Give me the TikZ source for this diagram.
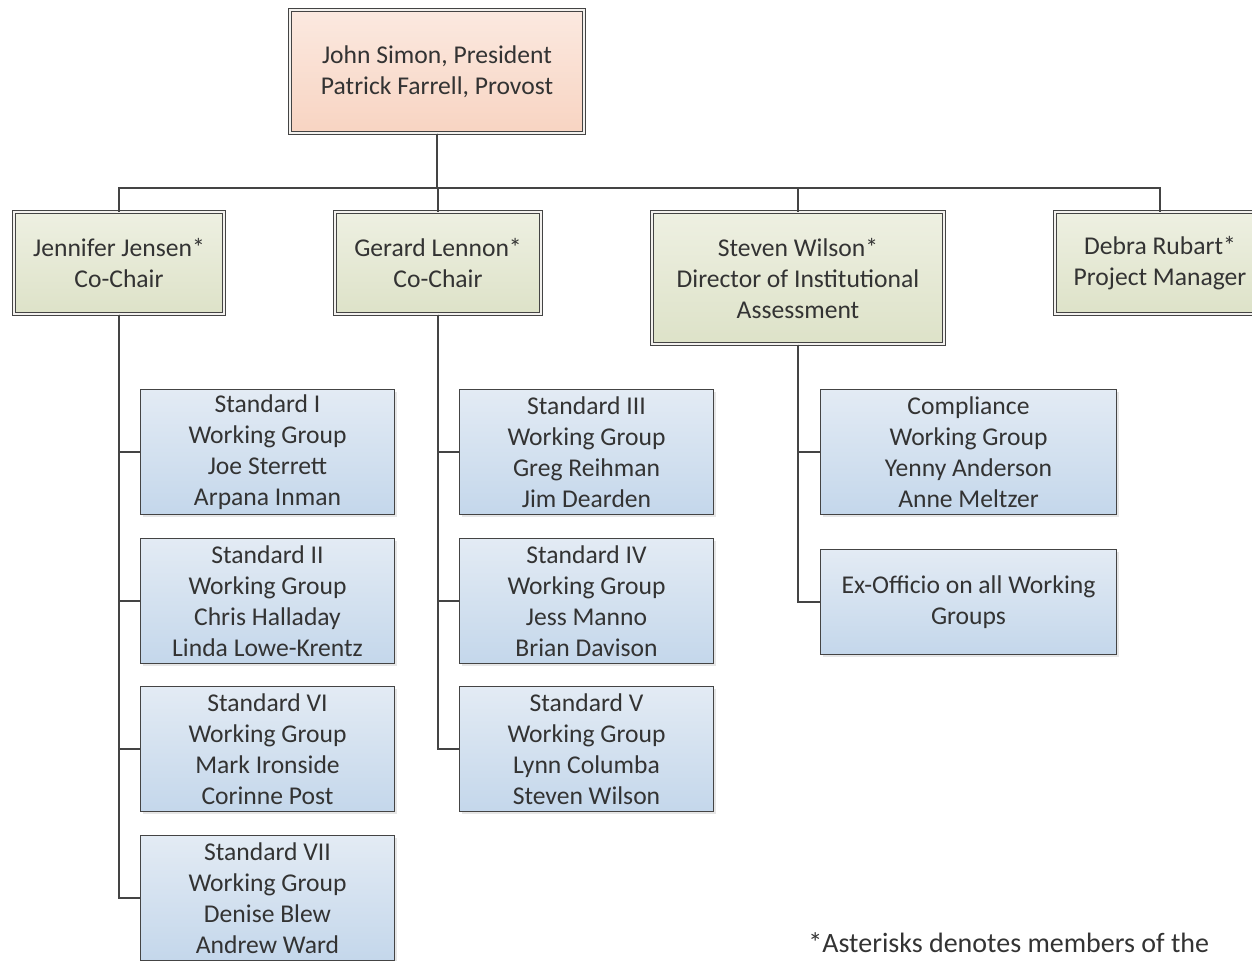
\documentclass[tikz,border=0pt]{standalone}
\usepackage{fontspec}
\setmainfont{Carlito}
\usetikzlibrary{shadows}

\definecolor{txt}{HTML}{333333}
\definecolor{edge}{HTML}{444444}
\definecolor{gap}{HTML}{F3F1EE}
\definecolor{peachtop}{HTML}{FBE9E0}
\definecolor{peachbot}{HTML}{F8D4C2}
\definecolor{greentop}{HTML}{EEF0E2}
\definecolor{greenbot}{HTML}{DDE2C8}
\definecolor{bluetop}{HTML}{E3EBF4}
\definecolor{bluebot}{HTML}{C4D7EB}

\begin{document}
\begin{tikzpicture}[x=0.5pt, y=-0.5pt,
  every node/.style={font=\fontsize{12.8}{15.5}\selectfont, text=txt, align=center, inner sep=0pt},
  shade/.style={drop shadow={opacity=0.2, shadow xshift=1pt, shadow yshift=-1pt}},
  head/.style={shade, draw=edge, line width=0.5pt, double=gap, double distance=1pt,
    top color=peachtop, bottom color=peachbot, minimum width=147pt, minimum height=61.5pt},
  chair/.style={shade, draw=edge, line width=0.5pt, double=gap, double distance=1pt,
    top color=greentop, bottom color=greenbot, minimum height=51pt},
  group/.style={shade, draw=edge, line width=0.6pt, top color=bluetop, bottom color=bluebot,
    minimum width=127pt, minimum height=62.5pt},
  link/.style={draw=edge, line width=0.7pt}]
  \useasboundingbox (0,0) rectangle (1252,960);

  \node[head] (pres) at (437,71.5) {John Simon, President\\Patrick Farrell, Provost};

  \node[chair, minimum width=105pt] (jensen) at (119,263) {Jennifer Jensen*\\Co-Chair};
  \node[chair, minimum width=103pt] (lennon) at (438,263) {Gerard Lennon*\\Co-Chair};
  \node[chair, minimum width=146pt, minimum height=66pt] (wilson) at (798,278)
    {Steven Wilson*\\Director of Institutional\\Assessment};
  \node[chair, minimum width=105pt] (rubart) at (1160,263) {Debra Rubart*\\Project Manager};

  % working groups under each chair
  \node[group] (std1) at (267.5,452) {Standard I\\Working Group\\Joe Sterrett\\Arpana Inman};
  \node[group] (std2) at (267.5,601) {Standard II\\Working Group\\Chris Halladay\\Linda Lowe-Krentz};
  \node[group] (std6) at (267.5,749) {Standard VI\\Working Group\\Mark Ironside\\Corinne Post};
  \node[group] (std7) at (267.5,898) {Standard VII\\Working Group\\Denise Blew\\Andrew Ward};

  \node[group] (std3) at (586.5,452) {Standard III\\Working Group\\Greg Reihman\\Jim Dearden};
  \node[group] (std4) at (586.5,601) {Standard IV\\Working Group\\Jess Manno\\Brian Davison};
  \node[group] (std5) at (586.5,749) {Standard V\\Working Group\\Lynn Columba\\Steven Wilson};

  \node[group, minimum width=148pt] (comp) at (968.5,452)
    {Compliance\\Working Group\\Yenny Anderson\\Anne Meltzer};
  \node[group, minimum width=148pt, minimum height=52.5pt] (exoff) at (968.5,602)
    {Ex-Officio on all Working\\Groups};

  \node[anchor=base west, font=\fontsize{14}{17}\selectfont] (note) at (808,952)
    {*Asterisks denotes members of the};

  \coordinate (bus) at (0,188);
  \foreach \c in {jensen,lennon,wilson,rubart}
    \draw[link] (pres.south) |- (bus -| \c.north) -- (\c.north);
  \foreach \g in {std1,std2,std6,std7}
    \draw[link] (jensen.south) |- (\g.west);
  \foreach \g in {std3,std4,std5}
    \draw[link] (lennon.south) |- (\g.west);
  \foreach \g in {comp,exoff}
    \draw[link] (wilson.south) |- (\g.west);
\end{tikzpicture}
\end{document}
